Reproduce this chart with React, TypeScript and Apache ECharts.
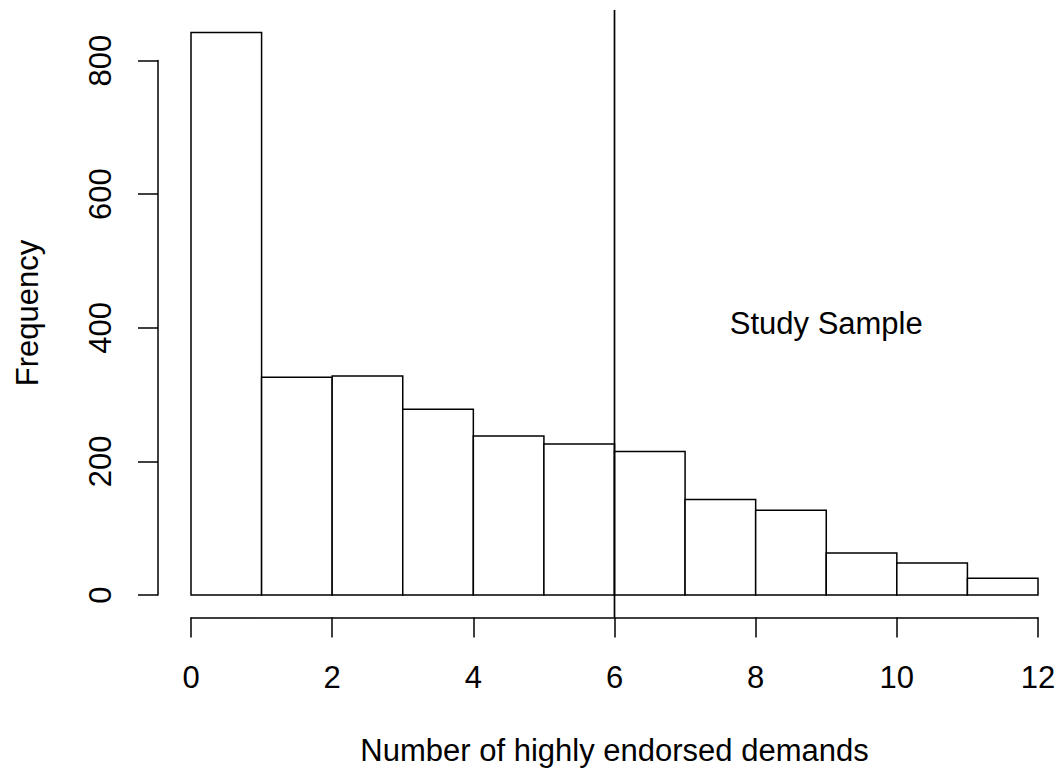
import React, { useEffect, useRef } from "react";
import * as echarts from "echarts";

const binStarts = [0, 1, 2, 3, 4, 5, 6, 7, 8, 9, 10, 11];
const binWidth = 1;
const counts = [842, 326, 328, 278, 238, 226, 215, 143, 127, 63, 48, 25];
const cutoff = 6;
const plotYRange = [-33.7, 875.7];
const labelText = "Study Sample";
const labelPos = [9, 407];
const xTitle = "Number of highly endorsed demands";
const yTitle = "Frequency";

const FONT = "'Liberation Sans', Arial, Helvetica, sans-serif";
const FS = 31;
const LW = 1.5;

export default function App() {
  const ref = useRef<HTMLDivElement>(null);
  useEffect(() => {
    if (!ref.current) return;
    const chart = echarts.init(ref.current, null, { renderer: "svg" });
    const histData = binStarts.map((s, i) => [s, s + binWidth, counts[i]]);
    const option = {
      animation: false,
      backgroundColor: "#ffffff",
      textStyle: { fontFamily: FONT },
      grid: { left: 191, right: 25, top: 60.6, bottom: 183, containLabel: false },
      xAxis: {
        type: "value",
        min: 0,
        max: 12,
        interval: 2,
        offset: 22.5,
        splitLine: { show: false },
        axisLine: { show: true, onZero: false, lineStyle: { color: "#000", width: LW } },
        axisTick: { show: true, length: 20, inside: false, lineStyle: { color: "#000", width: LW } },
        axisLabel: { color: "#000", fontSize: FS, fontFamily: FONT, margin: 44 },
        name: xTitle,
        nameLocation: "middle",
        nameGap: 117,
        nameTextStyle: { color: "#000", fontSize: FS, fontFamily: FONT },
      },
      yAxis: {
        type: "value",
        min: 0,
        max: 800,
        interval: 200,
        offset: 33,
        splitLine: { show: false },
        axisLine: { show: true, onZero: false, lineStyle: { color: "#000", width: LW } },
        axisTick: { show: true, length: 20, inside: false, lineStyle: { color: "#000", width: LW } },
        axisLabel: { color: "#000", fontSize: FS, fontFamily: FONT, rotate: 90, margin: 42 },
      },
      graphic: [
        {
          type: "text",
          x: 27,
          y: 313,
          rotation: Math.PI / 2,
          style: {
            text: yTitle,
            fontSize: FS,
            fontFamily: FONT,
            fill: "#000",
            align: "center",
            verticalAlign: "middle",
          },
        },
      ],
      series: [
        {
          type: "custom",
          clip: false,
          data: histData,
          renderItem: (params: any, api: any) => {
            const p0 = api.coord([api.value(0), 0]);
            const p1 = api.coord([api.value(1), api.value(2)]);
            return {
              type: "rect",
              shape: { x: p0[0], y: p1[1], width: p1[0] - p0[0], height: p0[1] - p1[1] },
              style: { fill: "#ffffff", stroke: "#000000", lineWidth: LW },
            };
          },
        },
        {
          type: "custom",
          clip: false,
          data: [[cutoff, plotYRange[0], plotYRange[1]]],
          renderItem: (params: any, api: any) => {
            const a = api.coord([api.value(0), api.value(1)]);
            const b = api.coord([api.value(0), api.value(2)]);
            return {
              type: "line",
              shape: { x1: a[0], y1: a[1], x2: b[0], y2: b[1] },
              style: { stroke: "#000000", lineWidth: 1.7 },
            };
          },
        },
        {
          type: "custom",
          clip: false,
          data: [[labelPos[0], labelPos[1]]],
          renderItem: (params: any, api: any) => {
            const p = api.coord([api.value(0), api.value(1)]);
            return {
              type: "text",
              x: p[0],
              y: p[1],
              style: {
                text: labelText,
                fontSize: FS,
                fontFamily: FONT,
                fill: "#000",
                align: "center",
                verticalAlign: "middle",
              },
            };
          },
        },
      ],
    };
    chart.setOption(option as any);
    return () => chart.dispose();
  }, []);
  return (
    <div
      ref={ref}
      style={{ position: "fixed", left: 0, top: 0, width: 1063, height: 778, background: "#fff" }}
    />
  );
}
